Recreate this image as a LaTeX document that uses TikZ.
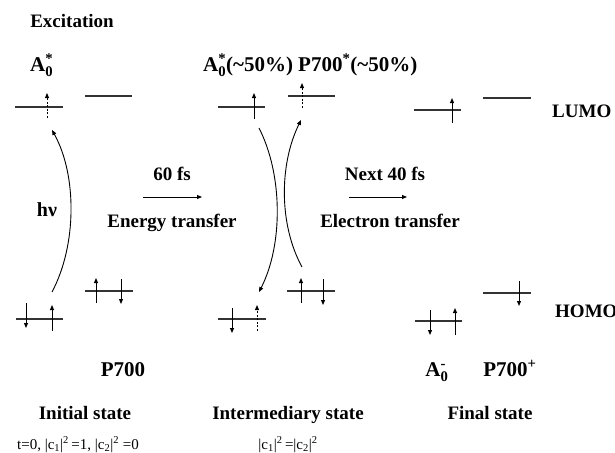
\documentclass[tikz,border=0pt]{standalone}
\usepackage{amsmath}
\usepackage{fontspec}
\setmainfont{Liberation Serif}
\usetikzlibrary{arrows.meta}

\begin{document}
\begin{tikzpicture}[
    x=1pt, y=-1pt,
    every node/.style={inner sep=0pt, anchor=base},
    % Energy level: plain horizontal bar
    level/.style={draw=black!80, line width=1.1pt},
    % Electron: short vertical arrow
    spin/.style={-{Triangle[length=5pt, width=4pt]}, line width=1pt},
    % Half-populated electron: dashed arrow
    halfspin/.style={spin, dash pattern=on 2pt off 1.6pt},
    % Curved transfer between levels
    hop/.style={-{Triangle[length=5pt, width=4pt]}, line width=0.9pt},
    % Time arrow between states
    timearrow/.style={-{Triangle[length=5pt, width=4pt]}, line width=0.9pt},
    heading/.style={font=\bfseries\fontsize{19}{22}\selectfont},
    species/.style={font=\bfseries\fontsize{21}{24}\selectfont},
    cond/.style={font=\fontsize{15}{18}\selectfont},
]
\useasboundingbox (0,0) rectangle (615,452);

% ====================================================
% INITIAL STATE
% ====================================================
\node[heading, anchor=base] (I-title) at (72,28) {Excitation};
\node[species, anchor=base west] (I-A0) at (30,71) {A$_{\textbf{0}}^{\textbf{*}}$};

% LUMO levels
\draw[level] (15,107) -- (63,107);
\draw[halfspin] (47,118) -- (47,93);
\draw[level] (85,96) -- (132,96);

% HOMO levels
\draw[level] (16,319) -- (63,319);
\draw[spin] (26,303) -- (26,328);
\draw[spin] (52,331) -- (52,305);
\draw[level] (85,291) -- (133,291);
\draw[spin] (96,303) -- (96,278);
\draw[spin] (121,279) -- (121,304);

% Excitation arrow
\coordinate (I-hv-s) at (52,292);
\coordinate (I-hv-e) at (52,130);
\draw[hop] (I-hv-s) .. controls (77,245) and (77,175) .. (I-hv-e);
\node[heading, font=\bfseries\fontsize{20}{22}\selectfont] (I-hv) at (47,216) {hν};

\node[species] (I-P700) at (123,376) {P700};
\node[heading] (I-state) at (85,419) {Initial state};
\node[cond] (I-cond) at (78,449)
    {t=0, |c\textsubscript{1}|\textsuperscript{2}\,=1, |c\textsubscript{2}|\textsuperscript{2} =0};

% ====================================================
% ENERGY TRANSFER
% ====================================================
\node[heading] (ET-time) at (172,180) {60 fs};
\coordinate (ET-a) at (143,197);
\coordinate (ET-b) at (202,197);
\draw[timearrow] (ET-a) -- (ET-b);
\node[heading] (ET-name) at (172,227) {Energy transfer};

% ====================================================
% INTERMEDIARY STATE
% ====================================================
\node[species, anchor=base west] (M-A0) at (203,71)
    {A$_{\textbf{0}}^{\textbf{*}}$(\textasciitilde50\%)};
\node[species, anchor=base west] (M-P700) at (298,71)
    {P700\textsuperscript{*}(\textasciitilde50\%)};

% LUMO levels
\draw[level] (218,107) -- (265,107);
\draw[spin] (254,119) -- (254,93);
\draw[level] (288,96) -- (335,96);
\draw[halfspin] (302,108) -- (302,83);

% HOMO levels
\draw[level] (218,319) -- (266,319);
\draw[spin] (232,308) -- (232,333);
\draw[halfspin] (257,331) -- (257,305);
\draw[level] (287,291) -- (335,291);
\draw[spin] (301,303) -- (301,278);
\draw[spin] (323,279) -- (323,305);

% Coupled transfers
\coordinate (M-down-s) at (259,128);
\coordinate (M-down-e) at (259,292);
\coordinate (M-up-s) at (302,267);
\coordinate (M-up-e) at (301,120);
\draw[hop] (M-down-s) .. controls (283,175) and (283,245) .. (M-down-e);
\draw[hop] (M-up-s) .. controls (279,225) and (279,165) .. (M-up-e);

\node[heading] (M-state) at (288,419) {Intermediary state};
\node[cond] (M-cond) at (288,449)
    {|c\textsubscript{1}|\textsuperscript{2}\,=|c\textsubscript{2}|\textsuperscript{2}};

% ====================================================
% ELECTRON TRANSFER
% ====================================================
\node[heading] (EL-time) at (385,180) {Next 40 fs};
\coordinate (EL-a) at (349,197);
\coordinate (EL-b) at (407,197);
\draw[timearrow] (EL-a) -- (EL-b);
\node[heading] (EL-name) at (390,227) {Electron transfer};

% ====================================================
% FINAL STATE
% ====================================================
% LUMO levels
\draw[level] (414,110) -- (461,110);
\draw[spin] (452,123) -- (452,98);
\draw[level] (483,98) -- (531,98);
\node[heading, anchor=base west] (F-lumo) at (552,117) {LUMO};

% HOMO levels
\draw[level] (415,321) -- (462,321);
\draw[spin] (430,310) -- (430,335);
\draw[spin] (455,335) -- (455,308);
\draw[level] (483,293) -- (531,293);
\draw[spin] (519,281) -- (519,306);
\node[heading, anchor=base west] (F-homo) at (555,317) {HOMO};

\node[species] (F-A0) at (437,376) {A$_{\textbf{0}}^{\textbf{-}}$};
\node[species] (F-P700) at (510,376) {P700\textsuperscript{+}};
\node[heading] (F-state) at (490,419) {Final state};

\end{tikzpicture}
\end{document}
